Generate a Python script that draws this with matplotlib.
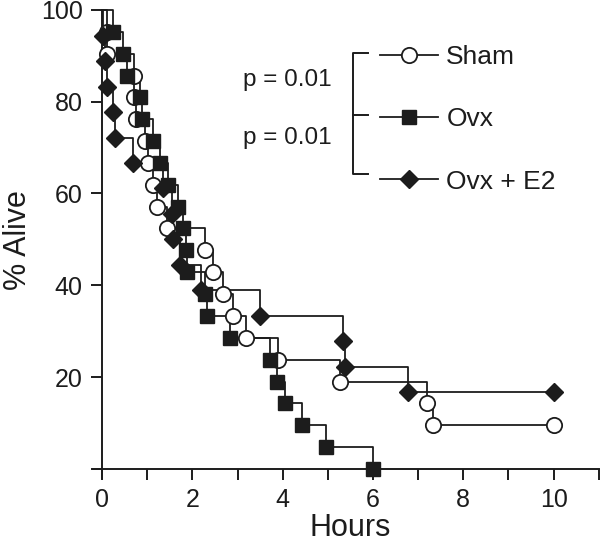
import matplotlib
matplotlib.use('Agg')
import matplotlib.pyplot as plt

plt.rcParams['font.family'] = ['Liberation Sans', 'DejaVu Sans']

# Kaplan-Meier read-off: event times (hours) and % alive after each event
sham_t = [0.1, 0.1, 0.7, 0.7, 0.75, 0.95, 1.02, 1.13, 1.22, 1.44, 2.28, 2.45,
          2.68, 2.9, 3.19, 3.9, 5.27, 7.2, 7.33, 10.0]
sham_s = [95.2, 90.5, 85.7, 81.0, 76.2, 71.4, 66.7, 61.9, 57.1, 52.4, 47.6, 42.9,
          38.1, 33.3, 28.6, 23.8, 19.0, 14.3, 9.5, 9.5]

ovx_t = [0.25, 0.46, 0.55, 0.84, 0.88, 1.13, 1.28, 1.46, 1.68, 1.79, 1.86, 1.88,
         2.28, 2.33, 2.83, 3.72, 3.88, 4.05, 4.42, 4.96, 6.0]
ovx_s = [95.2, 90.5, 85.7, 81.0, 76.2, 71.4, 66.7, 61.9, 57.1, 52.4, 47.6, 42.9,
         38.1, 33.3, 28.6, 23.8, 19.0, 14.3, 9.5, 4.8, 0.0]

e2_t = [0.03, 0.07, 0.11, 0.24, 0.29, 0.69, 1.35, 1.55, 1.58, 1.73, 2.2, 3.5,
        5.33, 5.38, 6.77, 10.0]
e2_s = [94.4, 88.9, 83.3, 77.8, 72.2, 66.7, 61.1, 55.6, 50.0, 44.4, 38.9, 33.3,
        27.8, 22.2, 16.7, 16.7]

p_values = ['p = 0.01', 'p = 0.01']
ink = '#1c1c1c'

fig = plt.figure(figsize=(6, 5.45), dpi=100)
ax = fig.add_axes([0.155, 0.123, 0.843, 0.8587])

groups = [
    ('Sham', sham_t, sham_s, dict(marker='o', ms=11, mfc='white', mec=ink, mew=1.3)),
    ('Ovx', ovx_t, ovx_s, dict(marker='s', ms=10, mfc=ink, mec=ink, mew=1)),
    ('Ovx + E2', e2_t, e2_s, dict(marker='D', ms=9, mfc=ink, mec=ink, mew=1)),
]
handles = []
for name, t, s, mk in groups:
    ax.step([0] + t, [100] + s, where='post', color=ink, lw=1.3, clip_on=False)
    ax.plot(t, s, ls='none', clip_on=False, zorder=3, **mk)
    h, = ax.plot([], [], color=ink, lw=1.3, **mk)
    handles.append(h)

ax.set_xlim(-0.2, 11)
ax.set_ylim(-2, 100)
ax.spines['top'].set_visible(False)
ax.spines['right'].set_visible(False)
ax.spines['left'].set_position(('data', 0))
ax.spines['bottom'].set_position(('data', 0))
for sp in ax.spines.values():
    sp.set_linewidth(1.4)
    sp.set_color(ink)

ax.set_xticks(range(0, 12))
ax.set_xticklabels([str(i) if i % 2 == 0 and i <= 10 else '' for i in range(0, 12)])
ax.set_yticks([0, 20, 40, 60, 80, 100])
ax.set_yticklabels(['', '20', '40', '60', '80', '100'])
ax.tick_params(direction='out', length=8, width=1.4, color=ink,
               labelsize=18, labelcolor=ink, pad=6)

ax.set_xlabel('Hours', fontsize=22, color=ink)
ax.set_ylabel('% Alive', fontsize=22, color=ink)
ax.xaxis.set_label_coords(0.508, -0.074)
ax.yaxis.set_label_coords(-0.118, 0.509)

leg = ax.legend(handles, [g[0] for g in groups], loc='upper left',
                bbox_to_anchor=(0.568, 0.925), frameon=False, fontsize=19,
                handlelength=2.2, handletextpad=0.3, labelspacing=1.45,
                borderaxespad=0, borderpad=0)
for txt in leg.get_texts():
    txt.set_color(ink)

# bracket joining the three groups and the p values
ax.plot([0.543, 0.514, 0.514, 0.543], [0.908, 0.908, 0.650, 0.650],
        transform=ax.transAxes, color=ink, lw=1.4, clip_on=False)
ax.plot([0.514, 0.543], [0.776, 0.776], transform=ax.transAxes,
        color=ink, lw=1.4, clip_on=False)
ax.text(0.472, 0.85, p_values[0], transform=ax.transAxes, fontsize=17.5,
        color=ink, va='center', ha='right')
ax.text(0.472, 0.726, p_values[1], transform=ax.transAxes, fontsize=17.5,
        color=ink, va='center', ha='right')

fig.savefig('out.png', dpi=100)
